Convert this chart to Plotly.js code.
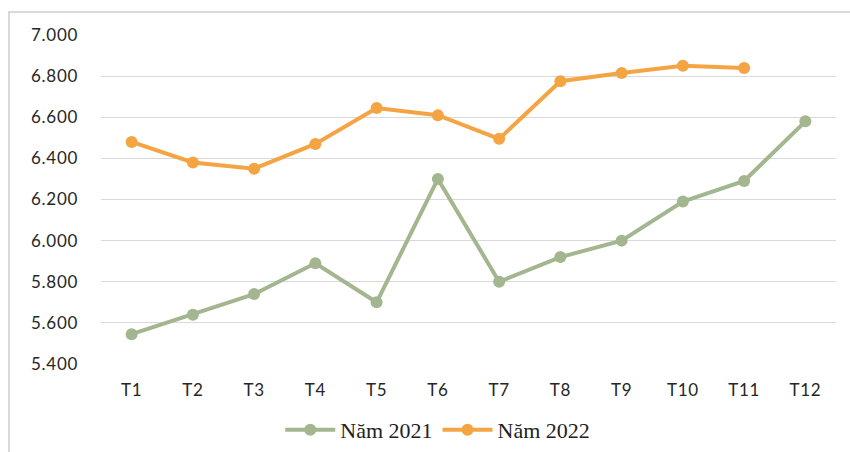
<!DOCTYPE html>
<html>
<head>
<meta charset="utf-8">
<script src="https://cdn.plot.ly/plotly-3.0.1.min.js"></script>
<style>
html,body{margin:0;padding:0;background:#fff;}
#wrap{position:relative;width:850px;height:452px;overflow:hidden;}
#frame{position:absolute;left:8px;top:11px;width:900px;height:500px;border-left:2px solid #d9d9d9;border-top:2px solid #d9d9d9;pointer-events:none;}
#chart{position:absolute;left:0;top:0;width:850px;height:452px;}
#chart .xtick text, #chart .ytick text{letter-spacing:0.7px;}
</style>
</head>
<body>
<div id="wrap">
<div id="chart"></div>
<div id="frame"></div>
</div>
<script>
const months = ["T1","T2","T3","T4","T5","T6","T7","T8","T9","T10","T11","T12"];
const name2021 = "Năm 2021";
const name2022 = "Năm 2022";
const values2021 = [5545,5640,5740,5890,5700,6300,5800,5920,6000,6190,6290,6580];
const values2022 = [6480,6380,6350,6470,6645,6610,6495,6775,6815,6850,6840,null];
const yTicks = [5400,5600,5800,6000,6200,6400,6600,6800,7000];

const green = "#a3b68f";
const orange = "#f4a442";

const traces = [
  {x: months, y: values2021, name: name2021, type: "scatter", mode: "lines+markers",
   line: {color: green, width: 4}, marker: {color: green, size: 12}},
  {x: months, y: values2022, name: name2022, type: "scatter", mode: "lines+markers",
   line: {color: orange, width: 4}, marker: {color: orange, size: 12}}
];

const layout = {
  width: 850, height: 452,
  margin: {l: 101, r: 14, t: 35, b: 88},
  paper_bgcolor: "rgba(0,0,0,0)", plot_bgcolor: "rgba(0,0,0,0)",
  showlegend: true,
  legend: {orientation: "h", xref: "container", yref: "container",
    x: 0.515, xanchor: "center", y: 0.049, yanchor: "middle",
    font: {family: "Liberation Serif, DejaVu Serif, serif", size: 22, color: "#222"},
    itemwidth: 50, tracegroupgap: 10},
  xaxis: {type: "category", range: [-0.5, months.length - 0.5],
    showgrid: false, zeroline: false, showline: false, automargin: false,
    ticks: "", ticklabelstandoff: 14,
    tickfont: {family: "Lato, Open Sans, sans-serif", size: 17, color: "#262626"}},
  yaxis: {range: [5400, 7000], tickmode: "array", tickvals: yTicks,
    ticktext: yTicks.map(v => (v/1000).toFixed(3)), automargin: false,
    showgrid: true, gridcolor: "#d9d9d9", gridwidth: 1, zeroline: false, showline: false,
    ticks: "", ticklabelstandoff: 22,
    tickfont: {family: "Lato, Open Sans, sans-serif", size: 17, color: "#262626"}}
};

Plotly.newPlot("chart", traces, layout, {displayModeBar: false, staticPlot: true});
</script>
</body>
</html>
